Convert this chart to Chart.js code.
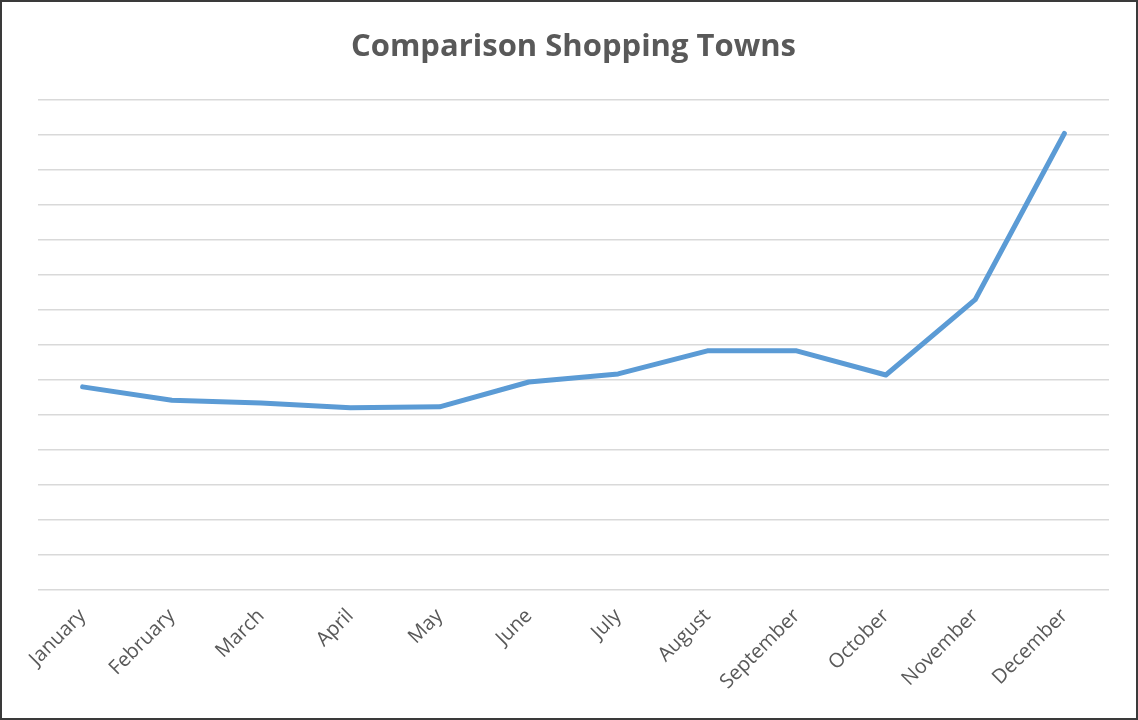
<!DOCTYPE html>
<html>
<head>
<meta charset="utf-8">
<script src="https://cdn.jsdelivr.net/npm/chart.js@4"></script>
<style>
  body { margin: 0; background: #fff; }
  #wrap { position: relative; width: 1138px; height: 720px; box-sizing: border-box; border: 2px solid #3a3a3a; }
  canvas { display: block; }
</style>
</head>
<body>
<div id="wrap"><canvas id="chart" width="1134" height="716"></canvas></div>
<script>
// données
const months = ['January', 'February', 'March', 'April', 'May', 'June', 'July',
                'August', 'September', 'October', 'November', 'December'];
const shopping = [5.81, 5.43, 5.35, 5.21, 5.24, 5.95, 6.18, 6.84, 6.84, 6.15, 8.30, 13.05];

const ctx = document.getElementById('chart').getContext('2d');
new Chart(ctx, {
    type: 'line',
    data: {
        labels: months,
        datasets: [{
            label: 'Shopping',
            data: shopping,
            borderColor: '#5b9bd5',
            borderWidth: 5,
            pointRadius: 0,
            tension: 0,
            borderCapStyle: 'round',
            borderJoinStyle: 'round'
        }]
    },
    options: {
        responsive: false,
        animation: false,
        layout: { padding: { left: 36, right: 27, top: 10, bottom: 18 } },
        plugins: {
            legend: { display: false },
            tooltip: { enabled: false },
            title: {
                display: true,
                text: 'Comparison Shopping Towns',
                color: '#595959',
                font: { family: 'Open Sans', size: 31, weight: 'bold' },
                padding: { top: 17, bottom: 34 }
            }
        },
        scales: {
            x: {
                offset: true,
                grid: { display: false },
                border: { display: false },
                ticks: {
                    color: '#595959',
                    font: { family: 'Open Sans', size: 20 },
                    minRotation: 45,
                    maxRotation: 45,
                    padding: 6
                }
            },
            y: {
                min: 0,
                max: 14,
                ticks: { display: false, stepSize: 1 },
                grid: { color: '#d9d9d9', lineWidth: 1.5, drawTicks: false },
                border: { display: false }
            }
        }
    }
});
</script>
</body>
</html>
